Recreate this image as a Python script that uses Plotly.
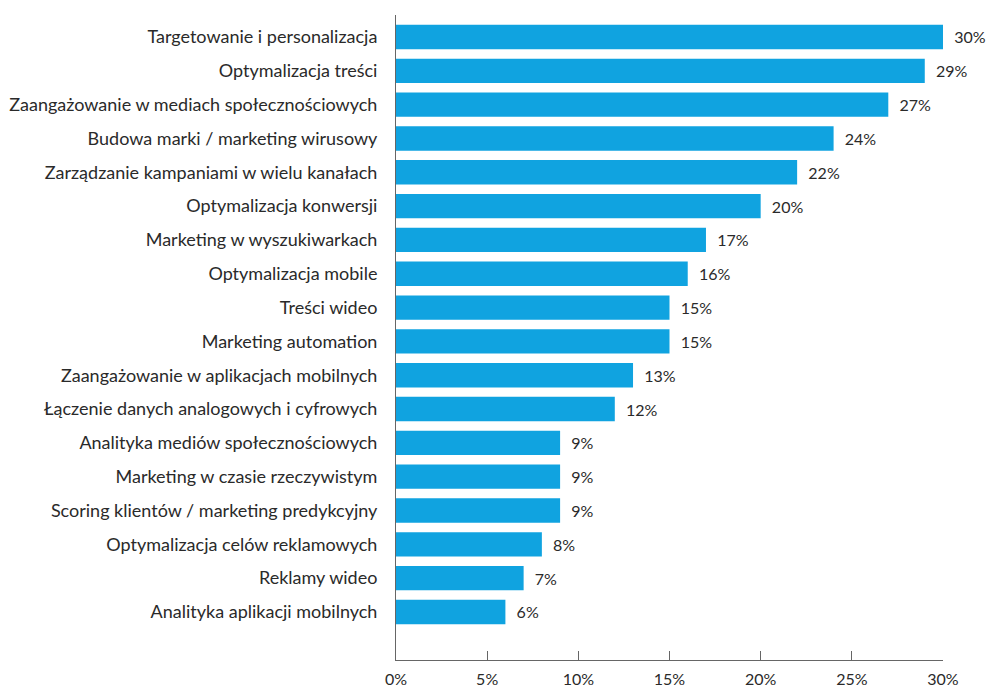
import plotly.graph_objects as go

categories = [
    "Targetowanie i personalizacja",
    "Optymalizacja treści",
    "Zaangażowanie w mediach społecznościowych",
    "Budowa marki / marketing wirusowy",
    "Zarządzanie kampaniami w wielu kanałach",
    "Optymalizacja konwersji",
    "Marketing w wyszukiwarkach",
    "Optymalizacja mobile",
    "Treści wideo",
    "Marketing automation",
    "Zaangażowanie w aplikacjach mobilnych",
    "Łączenie danych analogowych i cyfrowych",
    "Analityka mediów społecznościowych",
    "Marketing w czasie rzeczywistym",
    "Scoring klientów / marketing predykcyjny",
    "Optymalizacja celów reklamowych",
    "Reklamy wideo",
    "Analityka aplikacji mobilnych",
]
values = [30, 29, 27, 24, 22, 20, 17, 16, 15, 15, 13, 12, 9, 9, 9, 8, 7, 6]
tick_vals = [0, 5, 10, 15, 20, 25, 30]
tick_text = ["0%", "5%", "10%", "15%", "20%", "25%", "30%"]

font_family = "Lato, Open Sans, sans-serif"
text_color = "#2a2a2a"

fig = go.Figure(
    go.Bar(
        y=list(range(len(categories))),
        x=values,
        orientation="h",
        marker=dict(color="#10a3e0", line=dict(width=0)),
        width=0.72,
        text=[f"{v}%" for v in values],
        texttemplate="  %{text}",
        textposition="outside",
        textfont=dict(family=font_family, size=16, color=text_color),
        cliponaxis=False,
        hoverinfo="skip",
    )
)

fig.update_layout(
    width=990,
    height=693,
    margin=dict(l=396, r=47, t=15, b=33),
    paper_bgcolor="white",
    plot_bgcolor="white",
    showlegend=False,
    font=dict(family=font_family, size=15, color=text_color),
    xaxis=dict(
        range=[0, 30],
        tickvals=tick_vals,
        ticktext=tick_text,
        ticks="inside",
        ticklen=9,
        tickcolor="#666666",
        tickwidth=1,
        showline=True,
        linecolor="#666666",
        linewidth=1,
        showgrid=False,
        zeroline=False,
        automargin=False,
        tickfont=dict(family=font_family, size=16, color=text_color),
        ticklabelstandoff=5,
    ),
    yaxis=dict(
        range=[18.42, -0.65],
        tickvals=list(range(len(categories))),
        ticktext=categories,
        ticks="",
        showline=True,
        linecolor="#666666",
        linewidth=1,
        showgrid=False,
        zeroline=False,
        automargin=False,
        tickfont=dict(family=font_family, size=18, color=text_color),
        ticklabelstandoff=14,
    ),
    bargap=0.28,
)

fig.write_html("out.html")
